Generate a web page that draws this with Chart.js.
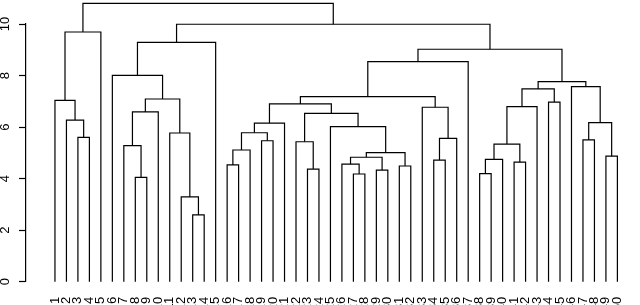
<!DOCTYPE html>
<html>
<head>
<meta charset="utf-8">
<script src="https://cdn.jsdelivr.net/npm/chart.js@4"></script>
<style>
  html, body { margin: 0; padding: 0; background: #fff; }
  canvas { display: block; }
</style>
</head>
<body>
<canvas id="mychart" width="640" height="305"></canvas>
<script>
// 葉のラベル（並び順どおり）
var leafLabels = [];
for (var i = 1; i <= 50; i++) leafLabels.push(String(i));

// hclust 形式の結合（負 = 葉、正 = それ以前の結合番号）
var mergeLeft  = [-3, -2, -1, 3,  -8, -7, 6, -13, -12, -11, 7, -6, 12,
                  -16, 14, -19, 15, 17,
                  -23, -22, -27, -26, -29, 22, -31, 24, -25, 20, 18,
                  -34, 30, -33, 29, 33,
                  -38, 35, -41, 36, 38, -44, 39, -47, -49, 42, -46, 41, 34, 13, 4];
var mergeRight = [-4, 1, 2, -5,  -9, 5, -10, -14, 8, 9, 10, 11, -15,
                  -17, -18, -20, 16, -21,
                  -24, 19, -28, 21, -30, 23, -32, 25, 26, 27, 28,
                  -35, -36, 31, 32, -37,
                  -39, -40, -42, 37, -43, -45, 40, -48, -50, 43, 44, 45, 46, 47, 48];
var mergeHeight = [5.60, 6.27, 7.04, 9.69,  4.05, 5.28, 6.59, 2.59, 3.29, 5.77, 7.09, 8.01, 9.29,
                   4.53, 5.11, 5.47, 5.78, 6.15,
                   4.37, 5.43, 4.18, 4.56, 4.33, 4.83, 4.49, 5.01, 6.02, 6.53, 6.90,
                   4.72, 5.56, 6.77, 7.18, 8.54,
                   4.19, 4.75, 4.64, 5.34, 6.79, 6.97, 7.48, 5.50, 4.87, 6.17, 7.57, 7.76, 9.02, 9.99, 10.80];

// 縦軸の目盛
var yTicks = [0, 2, 4, 6, 8, 10];

// 各ノードの位置と高さ
var nodeX = [], nodeH = [];
function posOf(id) {
  if (id < 0) return { x: -id, h: 0 };
  return { x: nodeX[id - 1], h: nodeH[id - 1] };
}
var datasets = [];
for (var m = 0; m < mergeHeight.length; m++) {
  var a = posOf(mergeLeft[m]);
  var b = posOf(mergeRight[m]);
  var h = mergeHeight[m];
  nodeX.push((a.x + b.x) / 2);
  nodeH.push(h);
  datasets.push({
    data: [{x: a.x, y: a.h}, {x: a.x, y: h}, {x: b.x, y: h}, {x: b.x, y: b.h}],
    borderColor: '#000',
    borderWidth: 1.2,
    pointRadius: 0,
    tension: 0,
    fill: false,
    clip: false,
  });
}

var ctx = document.getElementById('mychart');
var myChart = new Chart(ctx, {
  type: 'line',
  data: { datasets: datasets },
  options: {
    responsive: false,
    animation: false,
    events: [],
    layout: { padding: { top: 24, right: 0, bottom: 0, left: 0 } },
    plugins: {
      legend: { display: false },
      tooltip: { enabled: false },
    },
    scales: {
      x: {
        type: 'linear',
        min: -1.523,
        max: 50.646,
        grid: { display: false },
        border: { display: false },
        afterBuildTicks: function(s) {
          s.ticks = leafLabels.map(function(l, i) { return { value: i + 1 }; });
        },
        afterFit: function(s) { s.height = 23.3; },
        ticks: {
          autoSkip: false,
          minRotation: 90,
          maxRotation: 90,
          padding: 7,
          color: '#000',
          font: { family: 'Liberation Sans', size: 13 },
          callback: function(v) { return leafLabels[v - 1]; },
        },
      },
      y: {
        min: 0,
        max: 10,
        afterBuildTicks: function(s) {
          s.ticks = yTicks.map(function(v) { return { value: v }; });
        },
        afterFit: function(s) { s.width = 26; },
        grid: {
          drawOnChartArea: false,
          drawTicks: true,
          tickLength: 7,
          tickColor: '#000',
          tickWidth: 1.2,
        },
        border: { display: true, color: '#000', width: 1.2 },
        ticks: {
          minRotation: 90,
          maxRotation: 90,
          crossAlign: 'center',
          padding: 6.3,
          color: '#000',
          font: { family: 'Liberation Sans', size: 13 },
        },
      },
    },
  },
});
</script>
</body>
</html>
